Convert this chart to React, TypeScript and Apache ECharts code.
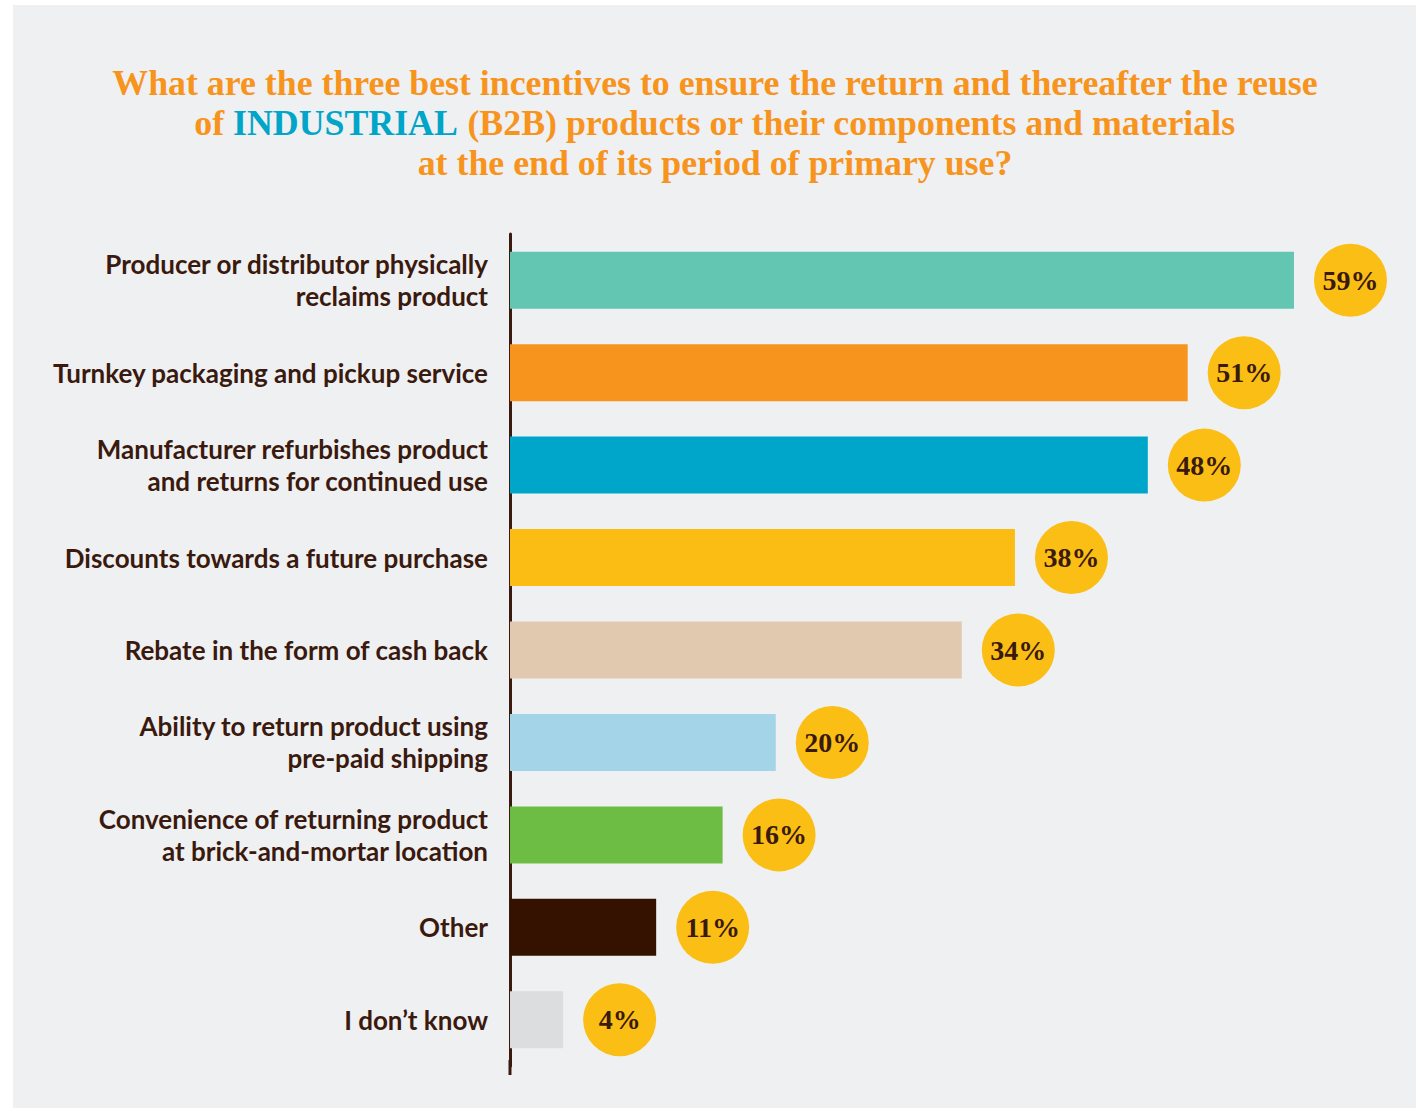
import React, { useEffect, useRef } from "react";
import * as echarts from "echarts";

const categories = [
  "Producer or distributor physically\nreclaims product",
  "Turnkey packaging and pickup service",
  "Manufacturer refurbishes product\nand returns for continued use",
  "Discounts towards a future purchase",
  "Rebate in the form of cash back",
  "Ability to return product using\npre-paid shipping",
  "Convenience of returning product\nat brick-and-mortar location",
  "Other",
  "I don\u2019t know",
];
const values = [59, 51, 48, 38, 34, 20, 16, 11, 4];
const barColors = [
  "#62c6b3",
  "#f7941d",
  "#00a6c9",
  "#fbbd14",
  "#e1c9b0",
  "#a4d4e7",
  "#6dbd44",
  "#351200",
  "#dcdddf",
];
const titleLines = [
  "What are the three best incentives to ensure the return and thereafter the reuse",
  ["of ", "INDUSTRIAL", " (B2B) products or their components and materials"],
  "at the end of its period of primary use?",
];

const TEXT = "#3a1a0e";

export default function App() {
  const ref = useRef<HTMLDivElement>(null);
  useEffect(() => {
    if (!ref.current) return;
    const chart = echarts.init(ref.current, null, { renderer: "svg" });
    const l2 = titleLines[1] as string[];
    const titleText =
      `{o|${titleLines[0]}}\n{o|${l2[0]}}{b|${l2[1]}}{o|${l2[2]}}\n{o|${titleLines[2]}}`;
    const serif = "'Liberation Serif', 'DejaVu Serif', serif";
    chart.setOption({
      animation: false,
      backgroundColor: "#ffffff",
      graphic: [
        {
          type: "rect",
          z: -10,
          shape: { x: 13, y: 5, width: 1403, height: 1103 },
          style: { fill: "#eff0f2" },
        },
        {
          type: "line",
          z: 5,
          shape: { x1: 510, y1: 1060, x2: 510, y2: 1075 },
          style: { stroke: TEXT, lineWidth: 3 },
        },
      ],
      title: {
        left: 715,
        top: 63,
        padding: 0,
        textAlign: "center",
        text: titleText,
        textStyle: {
          rich: {
            o: {
              color: "#f7941d",
              fontFamily: serif,
              fontWeight: "bold",
              fontSize: 35.8,
              lineHeight: 40,
            },
            b: {
              color: "#00a5c8",
              fontFamily: serif,
              fontWeight: "bold",
              fontSize: 35.8,
              lineHeight: 40,
            },
          },
        },
      },
      grid: { left: 510, top: 234, height: 832, width: 877 },
      xAxis: {
        type: "value",
        min: 0,
        max: 66,
        show: false,
      },
      yAxis: {
        type: "category",
        inverse: true,
        data: categories,
        axisLine: { show: true, lineStyle: { color: TEXT, width: 3 } },
        axisTick: { show: false },
        axisLabel: {
          margin: 22,
          color: TEXT,
          fontFamily: "Lato, 'Open Sans', sans-serif",
          fontWeight: "bold",
          fontSize: 26,
          lineHeight: 32,
          align: "right",
        },
      },
      series: [
        {
          type: "bar",
          barWidth: 57,
          data: values.map((v, i) => ({
            value: v,
            itemStyle: { color: barColors[i] },
          })),
          label: {
            show: true,
            position: "right",
            distance: 20,
            formatter: "{c|{c}%}",
            rich: {
              c: {
                width: 73,
                height: 73,
                lineHeight: 73,
                align: "center",
                backgroundColor: "#fbbe14",
                borderRadius: 36.5,
                color: TEXT,
                fontFamily: serif,
                fontWeight: "bold",
                fontSize: 28,
              },
            },
          },
        },
      ],
    });
    return () => chart.dispose();
  }, []);
  return (
    <div
      ref={ref}
      style={{ position: "absolute", left: 0, top: 0, width: 1416, height: 1111 }}
    />
  );
}
